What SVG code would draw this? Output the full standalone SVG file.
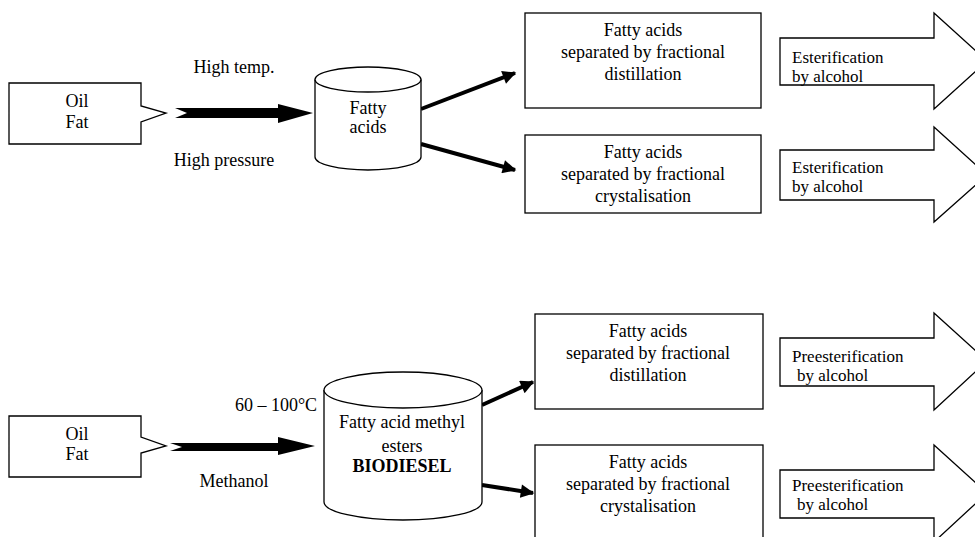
<svg xmlns="http://www.w3.org/2000/svg" width="975" height="537" viewBox="0 0 975 537">
<style>
.s{fill:#fff;stroke:#000;stroke-width:1.3}
.t{font-family:"Liberation Serif","Times New Roman",serif;font-size:18px;fill:#000}
.a{font-size:17px}
.c{text-anchor:middle}
.b{font-weight:bold}
.k{fill:#000;stroke:none}
.ln{stroke:#000;stroke-width:4;fill:none}
</style>
<defs>
<marker id="ah" viewBox="0 0 10 10" refX="9" refY="5" markerWidth="4" markerHeight="3.4" orient="auto" markerUnits="strokeWidth">
<path d="M0,0 L10,5 L0,10 Z" fill="#000"/>
</marker>
</defs>
<rect width="975" height="537" fill="#fff"/>

<g id="connectors">
<polygon class="k" points="175,108 278,108 278,104 313,113 278,123 278,118 175,118 187,113"/>
<polygon class="k" points="170,443 278,443 278,437 315,446 278,455 278,451 170,451 182,447"/>
<line class="ln" x1="421" y1="109" x2="515" y2="73" marker-end="url(#ah)"/>
<line class="ln" x1="421" y1="144" x2="515" y2="170" marker-end="url(#ah)"/>
<line class="ln" x1="482" y1="405" x2="533" y2="382" marker-end="url(#ah)"/>
<line class="ln" x1="482" y1="485" x2="533" y2="493" marker-end="url(#ah)"/>
<text class="t c" x="234" y="73">High temp.</text>
<text class="t c" x="224" y="166">High pressure</text>
<text class="t c" x="276" y="411">60 – 100°C</text>
<text class="t c" x="234" y="487">Methanol</text>
</g>

<g id="oil1">
<path class="s" d="M9,83 H141 V106 L166,113 L141,122 V144 H9 Z"/>
<text class="t c" x="77" y="107">Oil</text>
<text class="t c" x="77" y="128">Fat</text>
</g>

<g id="cyl1">
<path class="s" d="M315,79.5 V157 A53,13 0 0 0 421,157 V79.5"/>
<ellipse class="s" cx="368" cy="79.5" rx="53" ry="12.5"/>
<text class="t c" x="368" y="114">Fatty</text>
<text class="t c" x="368" y="133">acids</text>
</g>

<g id="box1">
<rect class="s" x="525" y="13" width="236" height="95"/>
<text class="t c" x="643" y="36">Fatty acids</text>
<text class="t c" x="643" y="58">separated by fractional</text>
<text class="t c" x="643" y="80">distillation</text>
</g>

<g id="box2">
<rect class="s" x="525" y="135" width="236" height="78"/>
<text class="t c" x="643" y="158">Fatty acids</text>
<text class="t c" x="643" y="180">separated by fractional</text>
<text class="t c" x="643" y="202">crystalisation</text>
</g>

<g id="arrow1">
<polygon class="s" points="780,38 934,38 934,13 987,61 934,109 934,85 780,85"/>
<text class="t a" x="792" y="63">Esterification</text>
<text class="t a" x="792" y="82">by alcohol</text>
</g>

<g id="arrow2">
<polygon class="s" points="780,150 934,150 934,127 987,175 934,222 934,200 780,200"/>
<text class="t a" x="792" y="173">Esterification</text>
<text class="t a" x="792" y="192">by alcohol</text>
</g>

<g id="oil2">
<path class="s" d="M9,416 H141 V437 L166,446 L141,453 V477 H9 Z"/>
<text class="t c" x="77" y="440">Oil</text>
<text class="t c" x="77" y="460">Fat</text>
</g>

<g id="cyl2">
<path class="s" d="M324,390 V502 A79,18 0 0 0 482,502 V390"/>
<ellipse class="s" cx="403" cy="390" rx="79" ry="18"/>
<text class="t c" x="402" y="428">Fatty acid methyl</text>
<text class="t c" x="402" y="452">esters</text>
<text class="t c b" x="402" y="472">BIODIESEL</text>
</g>

<g id="box3">
<rect class="s" x="535" y="314" width="228" height="95"/>
<text class="t c" x="648" y="337">Fatty acids</text>
<text class="t c" x="648" y="359">separated by fractional</text>
<text class="t c" x="648" y="381">distillation</text>
</g>

<g id="box4">
<rect class="s" x="535" y="445" width="228" height="100"/>
<text class="t c" x="648" y="468">Fatty acids</text>
<text class="t c" x="648" y="490">separated by fractional</text>
<text class="t c" x="648" y="512">crystalisation</text>
</g>

<g id="arrow3">
<polygon class="s" points="780,338 934,338 934,313 987,361 934,410 934,386 780,386"/>
<text class="t a" x="792" y="362">Preesterification</text>
<text class="t a" x="797" y="381">by alcohol</text>
</g>

<g id="arrow4">
<polygon class="s" points="780,470 934,470 934,445 987,493 934,542 934,518 780,518"/>
<text class="t a" x="792" y="491">Preesterification</text>
<text class="t a" x="797" y="510">by alcohol</text>
</g>
</svg>
